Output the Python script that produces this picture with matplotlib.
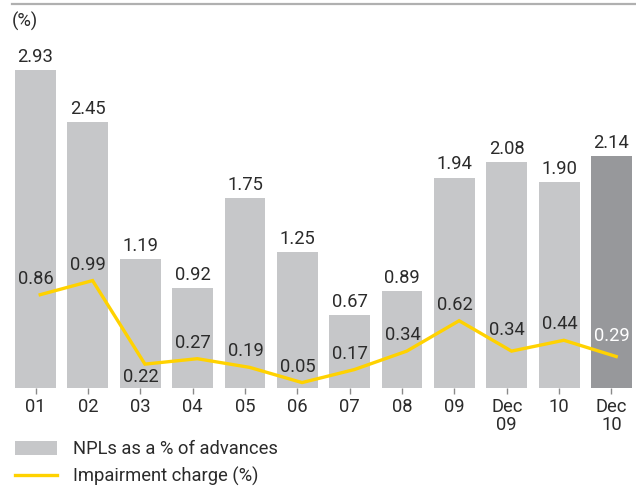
"""NPLs as a % of advances vs impairment charge, bar + line chart."""

import matplotlib

matplotlib.use("Agg")
import matplotlib.pyplot as plt
from matplotlib.lines import Line2D
from matplotlib.patches import Patch

plt.rcParams["font.family"] = ["Roboto", "DejaVu Sans"]

categories = ["01", "02", "03", "04", "05", "06", "07", "08", "09", "Dec\n09", "10", "Dec\n10"]
npl_pct = [2.93, 2.45, 1.19, 0.92, 1.75, 1.25, 0.67, 0.89, 1.94, 2.08, 1.90, 2.14]
impairment_pct = [0.86, 0.99, 0.22, 0.27, 0.19, 0.05, 0.17, 0.34, 0.62, 0.34, 0.44, 0.29]

BAR_GREY = "#c6c7c9"
BAR_DARK = "#97989b"
GOLD = "#ffd200"
TEXT = "#2b2b2b"
FS = 13.2

W, H = 636, 488
fig = plt.figure(figsize=(W / 100, H / 100), dpi=100)
ax = fig.add_axes([0, 100 / H, 1, 384 / H])

x = list(range(len(categories)))
colors = [BAR_GREY] * (len(x) - 1) + [BAR_DARK]
bars = ax.bar(x, npl_pct, width=0.78, color=colors, zorder=1)
ax.bar_label(bars, labels=[f"{v:.2f}" for v in npl_pct], padding=3,
             fontsize=FS, color=TEXT)

# line sits slightly right of bar centres in the original
lx = [i + 0.09 for i in x]
ax.plot(lx, impairment_pct, color=GOLD, lw=2.4, solid_joinstyle="miter", zorder=2)

for i, (xi, v) in enumerate(zip(lx, impairment_pct)):
    dy = 11.5
    if categories[i] == "03":
        dy = -9
    elif categories[i] in ("Dec\n09", "Dec\n10"):
        dy = 15
    color = "white" if i == len(x) - 1 else TEXT
    ax.annotate(f"{v:.2f}", (xi, v), xytext=(-3, dy), textcoords="offset points",
                ha="center", va="center", fontsize=FS, color=color, zorder=3)

ax.set_xlim(-35.5 / 52.36, 11 + 24.5 / 52.36)
ax.set_ylim(0, 384 / 108.5)
ax.set_xticks(x)
ax.set_xticklabels(categories, fontsize=FS, color=TEXT, linespacing=1.0)
ax.tick_params(axis="x", length=4, width=1, color="#8a8a8a", pad=3.5)
ax.set_yticks([])
for s in ax.spines.values():
    s.set_visible(False)
ax.patch.set_alpha(0)

fig.add_artist(Line2D([12 / W, 1], [484 / H, 484 / H], color="#b0b0b0", lw=1.6))
fig.text(12 / W, 467 / H, "(%)", fontsize=FS, color=TEXT, va="center", ha="left")

handles = [Patch(facecolor=BAR_GREY, edgecolor="none"),
           Line2D([], [], color=GOLD, lw=2.4)]
fig.legend(handles, ["NPLs as a % of advances", "Impairment charge (%)"],
           loc="upper left", bbox_to_anchor=(15 / W, 48 / H), frameon=False,
           fontsize=FS, labelcolor=TEXT, borderpad=0, borderaxespad=0,
           handlelength=2.3, handleheight=0.8, handletextpad=0.85,
           labelspacing=0.5)

fig.savefig("out.png", dpi=100)
